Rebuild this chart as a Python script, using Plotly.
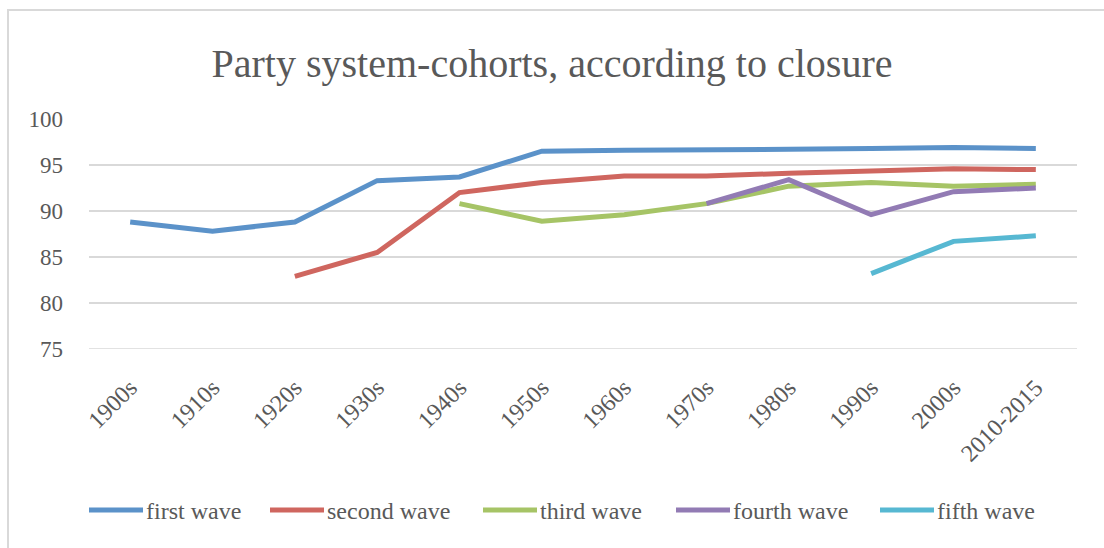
import plotly.graph_objects as go

decades = ["1900s", "1910s", "1920s", "1930s", "1940s", "1950s", "1960s",
           "1970s", "1980s", "1990s", "2000s", "2010-2015"]

first_wave = [88.8, 87.8, 88.8, 93.3, 93.7, 96.5, 96.6, 96.6, 96.7, 96.8, 96.9, 96.8]
second_wave = [None, None, 82.9, 85.5, 92.0, 93.1, 93.8, 93.8, 94.1, 94.3, 94.6, 94.5]
third_wave = [None, None, None, None, 90.8, 88.9, 89.6, 90.8, 92.7, 93.1, 92.7, 92.9]
fourth_wave = [None, None, None, None, None, None, None, 90.8, 93.4, 89.6, 92.1, 92.5]
fifth_wave = [None, None, None, None, None, None, None, None, None, 83.2, 86.7, 87.3]

series_names = ["first wave", "second wave", "third wave", "fourth wave", "fifth wave"]
series_values = [first_wave, second_wave, third_wave, fourth_wave, fifth_wave]
series_colors = ["#5b92c9", "#cf665f", "#a6c466", "#927bb4", "#57b8d2"]

y_ticks = [75, 80, 85, 90, 95, 100]

TEXT = "#595959"
GRID = "#d9d9d9"
FONT = "Liberation Serif"

# plot-area geometry in pixels (used to place the legend row in paper units)
W, H = 1104, 548
L, R, T, B = 89, 27, 119, 199
PW, PH = W - L - R, H - T - B


def px_x(x):
    return (x - L) / PW


def px_y(y):
    return (H - B - y) / PH


fig = go.Figure()
for name, vals, color in zip(series_names, series_values, series_colors):
    fig.add_trace(go.Scatter(
        x=decades, y=vals, name=name, mode="lines",
        line=dict(color=color, width=5),
        connectgaps=False, showlegend=False,
    ))

shapes = [
    # chart frame
    dict(type="rect", xref="paper", yref="paper",
         x0=px_x(8), x1=px_x(1110), y0=px_y(560), y1=px_y(10),
         line=dict(color=GRID, width=2), layer="below"),
    # baseline gridline at the axis minimum
    dict(type="line", xref="paper", yref="y", x0=0, x1=1,
         y0=y_ticks[0], y1=y_ticks[0],
         line=dict(color=GRID, width=1.5), layer="below"),
]

# legend row: a swatch line followed by the series name
legend_starts = [89, 270, 483, 676, 880]
swatch_len = 54
legend_y = 510
annotations = []
for name, color, x0 in zip(series_names, series_colors, legend_starts):
    shapes.append(dict(type="line", xref="paper", yref="paper",
                       x0=px_x(x0), x1=px_x(x0 + swatch_len),
                       y0=px_y(legend_y), y1=px_y(legend_y),
                       line=dict(color=color, width=5)))
    annotations.append(dict(text=name, xref="paper", yref="paper",
                            x=px_x(x0 + swatch_len + 1), y=px_y(legend_y + 1),
                            xanchor="left", yanchor="middle", showarrow=False,
                            font=dict(size=24, color=TEXT, family=FONT)))

fig.update_layout(
    width=W, height=H,
    margin=dict(l=L, r=R, t=T, b=B),
    paper_bgcolor="white", plot_bgcolor="white",
    font=dict(family=FONT, color=TEXT, size=22),
    title=dict(text="Party system-cohorts, according to closure",
               x=0.5, xanchor="center", y=1 - 63 / H, yanchor="middle",
               font=dict(size=40, color=TEXT, family=FONT)),
    showlegend=False,
    shapes=shapes,
    annotations=annotations,
)

fig.update_xaxes(
    type="category", range=[-0.5, 11.5],
    tickangle=-45, tickfont=dict(size=24, color=TEXT, family=FONT),
    showgrid=False, showline=False, zeroline=False, ticks="",
    ticklabelstandoff=19,
)
fig.update_yaxes(
    range=[75, 100], tickvals=y_ticks,
    tickfont=dict(size=23, color=TEXT, family=FONT),
    showgrid=True, gridcolor=GRID, gridwidth=1.5,
    showline=False, zeroline=False, ticks="", ticklabelstandoff=25,
)

fig.write_html("out.html")
